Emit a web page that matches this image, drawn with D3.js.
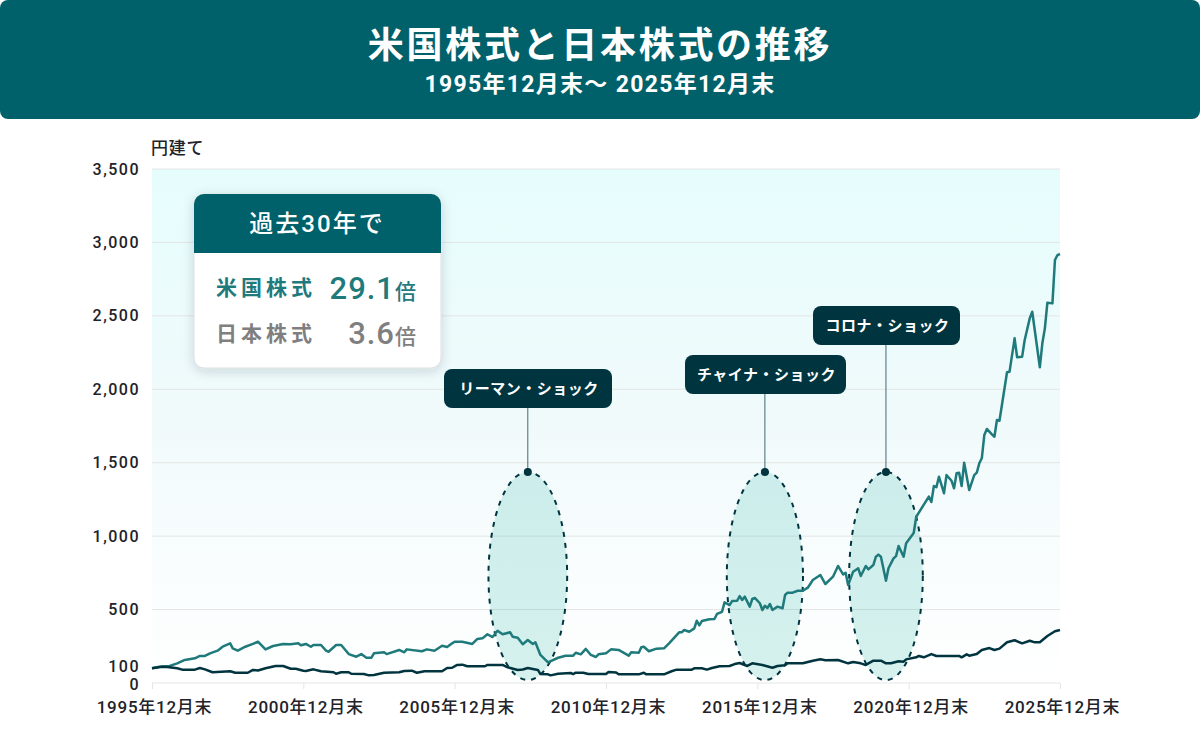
<!DOCTYPE html>
<html lang="ja">
<head>
<meta charset="utf-8">
<script src="https://cdn.jsdelivr.net/npm/d3@7"></script>
<style>
  html, body { margin: 0; padding: 0; background: #fff; }
  svg { display: block; }
  text { font-family: Roboto, "Noto Sans CJK JP", sans-serif; }
</style>
</head>
<body>
<div id="chart"></div>
<script>
const titleText = '米国株式と日本株式の推移';
const subtitleText = '1995年12月末～ 2025年12月末';
const unitText = '円建て';

// months counted from 1995年12月末
const usMonths = [0,3,7,10,13,17,19,21,23,26,28,31,32,34,37,40,42,45,48,52,55,58,59,61,63,64,67,69,70,73,75,78,81,83,85,87,88,92,93,98,100,101,107,109,112,115,117,119,120,123,127,129,131,133,135,137,139,142,143,145,147,149,151,152,154,157,161,164,167,168,170,172,174,176,177,180,182,185,189,190,193,194,195,197,200,203,205,209,210,211,213,215,216,217,218,221,223,224,226,227,229,230,232,233,234,235,237,238,239,241,242,243,244,245,246,248,250,251,252,254,256,258,260,262,265,267,270,272,274,275,276,278,280,281,283,284,286,287,288,289,291,292,294,295,296,298,299,302,303,308,309,310,311,312,314,315,317,318,319,320,321,322,324,326,327,328,329,330,331,333,334,335,336,339,340,342,343,345,346,348,349,352,353,354,355,357,358,359,360];
const usValues = [100,111,116,134,157,168,184,184,202,220,247,270,236,220,247,266,281,229,252,266,264,270,257,266,247,259,259,220,213,259,259,197,179,197,172,172,202,209,197,225,209,229,216,229,220,254,245,270,281,281,266,300,304,332,313,356,332,345,315,308,264,293,266,277,191,141,172,186,186,206,195,232,191,177,195,202,229,225,186,209,206,243,247,216,234,236,270,345,345,361,349,372,424,393,422,434,436,470,485,549,531,558,560,592,565,588,520,572,579,543,497,526,511,538,497,520,509,599,615,615,628,628,649,701,735,674,724,797,740,751,667,758,781,729,797,774,803,860,874,860,697,781,849,864,933,860,951,1021,1132,1269,1232,1341,1333,1405,1292,1416,1377,1326,1428,1432,1341,1500,1314,1416,1432,1496,1530,1689,1730,1693,1677,1791,1786,2116,2120,2347,2218,2222,2336,2483,2528,2150,2313,2415,2590,2585,2880,2914,2921];

const jpMonths = [0,4,6,10,12,17,19,21,24,31,33,38,40,42,45,49,52,55,57,60,61,64,67,72,73,75,78,79,84,86,88,92,98,100,103,105,108,115,117,119,121,123,125,132,133,139,141,145,147,149,153,154,157,158,161,166,167,168,171,173,180,181,184,185,193,195,196,203,206,208,214,215,218,220,222,225,229,231,233,236,238,242,246,248,251,252,258,262,265,267,272,276,278,281,283,286,289,291,293,296,298,299,303,304,306,309,311,320,321,323,324,327,329,332,334,336,339,342,345,348,350,352,355,358,360];
const jpValues = [100,111,109,100,91,91,102,93,73,80,70,70,89,85,100,116,116,97,97,84,82,93,80,73,63,73,73,63,61,52,54,70,73,82,84,70,80,80,102,104,123,125,114,114,123,123,107,89,92,102,89,61,59,52,63,68,61,70,70,61,61,75,71,59,59,70,59,59,80,91,91,100,100,91,102,114,116,129,136,116,134,123,104,116,121,134,134,152,161,155,157,134,143,134,123,152,152,134,134,148,145,161,175,184,175,197,184,184,175,195,186,197,225,238,225,234,277,291,270,288,277,277,320,352,361];

const xTickMonths = [0,60,120,180,240,300,360];
const xTickLabels = ['1995年12月末','2000年12月末','2005年12月末','2010年12月末','2015年12月末','2020年12月末','2025年12月末'];
const yTickValues = [0,100,500,1000,1500,2000,2500,3000,3500];
const gridValues = [0,500,1000,1500,2000,2500,3000,3500];

const eventNames = ['リーマン・ショック','チャイナ・ショック','コロナ・ショック'];
const eventMonths = [149,243,291];
const eventHalfMonths = [15.6,15.1,14.6];
const eventTopValue = 1437;
const eventBottomValue = 20;

const cardTitle = '過去30年で';
const cardNames = ['米国株式','日本株式'];
const cardMultiples = ['29.1','3.6'];
const multipleUnit = '倍';

const teal = '#00616a';
const usColor = '#1f7a7c';
const navy = '#003540';
const ink = '#222228';

const svg = d3.select('#chart').append('svg')
  .attr('width', 1200)
  .attr('height', 750)
  .attr('viewBox', '0 0 1200 750');

const defs = svg.append('defs');
const grad = defs.append('linearGradient')
  .attr('id', 'bg').attr('x1', 0).attr('x2', 0).attr('y1', 0).attr('y2', 1);
grad.append('stop').attr('offset', '0%').attr('stop-color', '#e6fdfd');
grad.append('stop').attr('offset', '50%').attr('stop-color', '#f1fafb');
grad.append('stop').attr('offset', '100%').attr('stop-color', '#ffffff');

const shadow = defs.append('filter').attr('id', 'shadow')
  .attr('x', '-15%').attr('y', '-15%').attr('width', '130%').attr('height', '135%');
shadow.append('feDropShadow')
  .attr('dx', 0).attr('dy', 3).attr('stdDeviation', 6)
  .attr('flood-color', navy).attr('flood-opacity', 0.16);

// header
svg.append('rect')
  .attr('width', 1200).attr('height', 119).attr('rx', 8).attr('fill', teal);
svg.append('text')
  .attr('x', 600).attr('y', 58)
  .attr('text-anchor', 'middle').attr('fill', '#fff')
  .style('font-size', '36px').style('font-weight', 700).style('letter-spacing', '2.7px')
  .text(titleText);
svg.append('text')
  .attr('x', 600).attr('y', 92)
  .attr('text-anchor', 'middle').attr('fill', '#fff')
  .style('font-size', '23px').style('font-weight', 700).style('letter-spacing', '1.3px')
  .text(subtitleText);

const x = d3.scaleLinear().domain([0, 360]).range([152, 1060]);
const y = d3.scaleLinear().domain([0, 3500]).range([683, 169]);

svg.append('rect')
  .attr('x', x(0)).attr('y', y(3500))
  .attr('width', x(360) - x(0)).attr('height', y(0) - y(3500))
  .attr('fill', 'url(#bg)');

svg.append('text')
  .attr('x', 151).attr('y', 154)
  .attr('fill', ink)
  .style('font-size', '17px').style('font-weight', 500).style('letter-spacing', '0.7px')
  .text(unitText);

// grid
svg.append('g').selectAll('line').data(gridValues).join('line')
  .attr('x1', x(0)).attr('x2', x(360))
  .attr('y1', d => y(d)).attr('y2', d => y(d))
  .attr('stroke', '#e4e5e5').attr('stroke-width', 1);

// axes
const xAxis = d3.axisBottom(x)
  .tickValues(xTickMonths)
  .tickSize(6)
  .tickPadding(12)
  .tickFormat((d, i) => xTickLabels[i]);
const xG = svg.append('g').attr('transform', `translate(0,${y(0)})`).call(xAxis);
xG.select('.domain').remove();
xG.selectAll('line').attr('stroke', '#e4e5e5');
xG.selectAll('text').attr('fill', ink)
  .attr('dx', 2)
  .style('font-size', '17px').style('font-weight', 500).style('letter-spacing', '0.75px');

const yAxis = d3.axisLeft(y)
  .tickValues(yTickValues)
  .tickSize(0)
  .tickPadding(12)
  .tickFormat(d3.format(','));
const yG = svg.append('g').attr('transform', `translate(${x(0)},0)`).call(yAxis);
yG.select('.domain').remove();
yG.selectAll('text').attr('fill', ink)
  .style('font-size', '16px').style('font-weight', 500).style('letter-spacing', '1.5px')
  .attr('dy', d => d === 100 ? '0.22em' : d === 0 ? '0.42em' : '0.32em');

// shock ellipses
const eventG = svg.append('g');
eventG.selectAll('ellipse').data(eventMonths).join('ellipse')
  .attr('cx', d => x(d))
  .attr('cy', (y(eventTopValue) + y(eventBottomValue)) / 2)
  .attr('rx', (d, i) => x(eventHalfMonths[i]) - x(0))
  .attr('ry', (y(eventBottomValue) - y(eventTopValue)) / 2)
  .attr('fill', '#00a896').attr('fill-opacity', 0.16)
  .attr('stroke', navy).attr('stroke-width', 2).attr('stroke-dasharray', '5 6');

// series
const line = d3.line().x(d => x(d[0])).y(d => y(d[1]));
svg.append('path')
  .datum(d3.zip(usMonths, usValues))
  .attr('d', line).attr('fill', 'none')
  .attr('stroke', usColor).attr('stroke-width', 2.5).attr('stroke-linejoin', 'round');
svg.append('path')
  .datum(d3.zip(jpMonths, jpValues))
  .attr('d', line).attr('fill', 'none')
  .attr('stroke', navy).attr('stroke-width', 2.5).attr('stroke-linejoin', 'round');

// shock labels
const labelBoxes = [[444,369,168],[685,355,161],[813,306,147]];
eventNames.forEach((name, i) => {
  const cx = x(eventMonths[i]);
  const [bx, by, bw] = labelBoxes[i];
  svg.append('line')
    .attr('x1', cx).attr('x2', cx)
    .attr('y1', by + 39).attr('y2', y(eventTopValue))
    .attr('stroke', '#3f6c74').attr('stroke-width', 1);
  svg.append('circle')
    .attr('cx', cx).attr('cy', y(eventTopValue)).attr('r', 4).attr('fill', navy);
  svg.append('rect')
    .attr('x', bx).attr('y', by).attr('width', bw).attr('height', 39)
    .attr('rx', 8).attr('fill', navy);
  svg.append('text')
    .attr('x', bx + bw / 2 + 1).attr('y', by + 25)
    .attr('text-anchor', 'middle').attr('fill', '#fff')
    .style('font-size', '15px').style('font-weight', 700).style('letter-spacing', '0.5px')
    .text(name);
});

// summary card
const card = svg.append('g');
card.append('rect')
  .attr('x', 194).attr('y', 194).attr('width', 247).attr('height', 174).attr('rx', 10)
  .attr('fill', '#fff').attr('stroke', '#dcdfdf').attr('filter', 'url(#shadow)');
card.append('path')
  .attr('d', 'M194,253V204a10,10 0 0 1 10,-10H431a10,10 0 0 1 10,10V253Z')
  .attr('fill', teal);
card.append('text')
  .attr('x', 317).attr('y', 232)
  .attr('text-anchor', 'middle').attr('fill', '#fff')
  .style('font-size', '24px').style('font-weight', 500).style('letter-spacing', '2px')
  .text(cardTitle);

const cardColors = [usColor, '#7f7f7f'];
cardNames.forEach((name, i) => {
  const rowY = 296 + i * 45;
  card.append('text')
    .attr('x', 216).attr('y', rowY - (i ? 0 : 1))
    .attr('fill', cardColors[i])
    .style('font-size', '21px').style('font-weight', 700).style('letter-spacing', '4px')
    .text(name);
  card.append('text')
    .attr('x', 395).attr('y', rowY + 3)
    .attr('text-anchor', 'end').attr('fill', cardColors[i])
    .style('font-size', '31px').style('font-weight', 500).style('letter-spacing', '1px')
    .text(cardMultiples[i]);
  card.append('text')
    .attr('x', 395).attr('y', rowY + 3)
    .attr('fill', cardColors[i])
    .style('font-size', '21px').style('font-weight', 500)
    .text(multipleUnit);
});
</script>
</body>
</html>
